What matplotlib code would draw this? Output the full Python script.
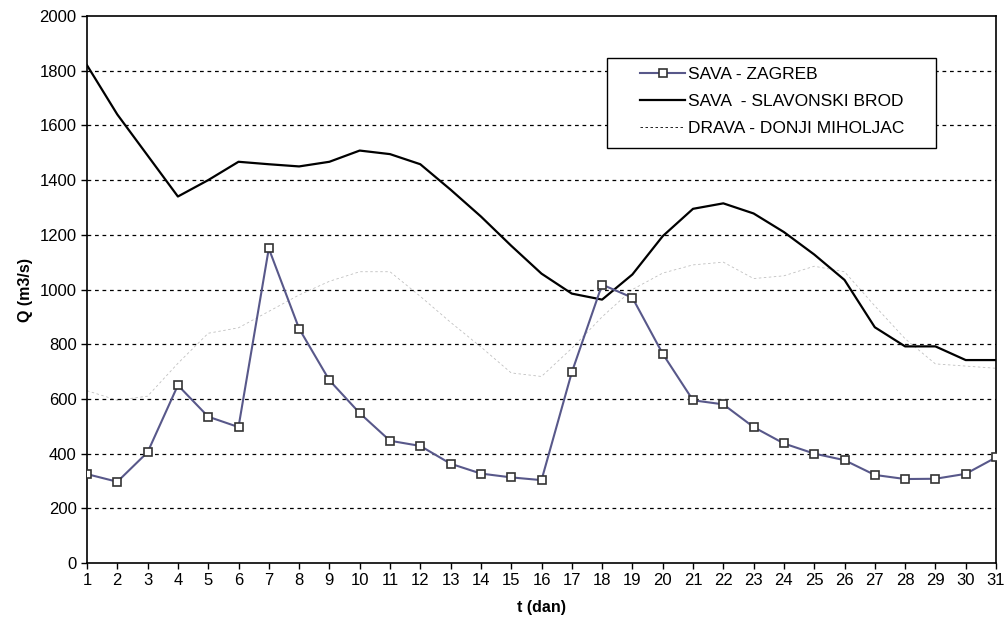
import matplotlib.pyplot as plt
from matplotlib.patches import Rectangle
import numpy as np

plt.rcParams['font.family'] = ['Liberation Sans', 'DejaVu Sans']

days = np.arange(1, 32)

# SAVA - ZAGREB
zagreb = [325, 297, 405, 650, 535, 497, 1150, 857, 668, 548,
          447, 428, 363, 327, 313, 303, 697, 1018, 970, 765,
          595, 580, 497, 437, 400, 376, 322, 307, 308, 326, 386]

# SAVA - SLAVONSKI BROD
brod = [1820, 1640, 1490, 1340, 1400, 1467, 1458, 1450, 1467, 1508,
        1495, 1458, 1365, 1267, 1160, 1058, 985, 963, 1055, 1195,
        1295, 1315, 1278, 1210, 1128, 1035, 862, 792, 792, 742, 742]

# DRAVA - DONJI MIHOLJAC (barely visible in the original)
drava = [630, 595, 610, 730, 840, 860, 920, 980, 1030, 1065,
         1065, 975, 880, 790, 695, 682, 785, 900, 1000, 1060,
         1090, 1100, 1040, 1050, 1085, 1065, 940, 820, 728, 720, 712]

fig = plt.figure(figsize=(10.08, 6.19), dpi=100)
ax = fig.add_axes([87/1008, 1 - 563/619, (996 - 87)/1008, (563 - 16)/619])

for v in range(200, 2000, 200):
    ax.axhline(v, color='black', lw=0.9, ls=(0, (3, 3)), zorder=1)

ax.plot(days, zagreb, color='#58588a', lw=1.5, marker='s', ms=6,
        mfc='white', mec='#333333', mew=1.2, label='SAVA - ZAGREB', zorder=4)
ax.plot(days, brod, color='black', lw=1.6, label='SAVA  - SLAVONSKI BROD', zorder=3)
ax.plot(days, drava, color='black', lw=0.6, ls=(0, (3, 3)), alpha=0.25,
        label='DRAVA - DONJI MIHOLJAC', zorder=2)

ax.set_xlim(1, 31)
ax.set_ylim(0, 2000)
ax.set_xticks(days)
ax.set_yticks(range(0, 2001, 200))
ax.tick_params(labelsize=12, length=4, width=1, direction='out')
for s in ax.spines.values():
    s.set_linewidth(1.2)

ax.set_xlabel('t (dan)', fontsize=11.5, fontweight='bold')
ax.xaxis.set_label_coords(0.5, -0.068)
ax.set_ylabel('Q (m3/s)', fontsize=11.5, fontweight='bold')
ax.yaxis.set_label_coords(-0.059, 0.5)

# legend frame drawn separately so the box can be wider than its content
box = Rectangle((607/1008, 1 - 148/619), (936 - 607)/1008, 90/619,
                transform=fig.transFigure, facecolor='white',
                edgecolor='black', lw=1.0, zorder=5, clip_on=False)
ax.add_artist(box)
leg = ax.legend(loc='upper left', bbox_to_anchor=(640/1008, 1 - 67/619),
                bbox_transform=fig.transFigure, fontsize=12.5, frameon=False,
                handlelength=2.6, handletextpad=0.15, labelspacing=0.68,
                borderpad=0, numpoints=1, borderaxespad=0)
leg.set_zorder(6)
for h in leg.legend_handles:
    h.set_alpha(1)

fig.savefig('out.png', dpi=100)
